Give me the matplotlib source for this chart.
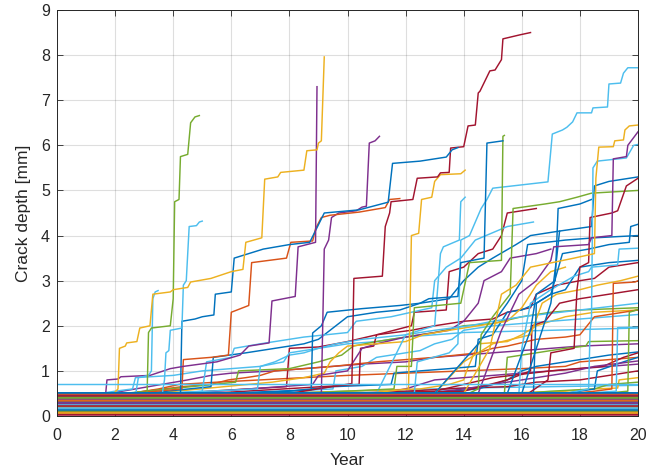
import matplotlib
matplotlib.use("Agg")
import matplotlib.pyplot as plt

# MATLAB default line colours
B, O, Y, P, G, C, R = ("#0072BD", "#D95319", "#EDB120", "#7E2F8E",
                       "#77AC30", "#4DBEEE", "#A2142F")
band_cycle = [B, O, Y, P, G, C, R]

# ── Data ──────────────────────────────────────────────────────────────────────
years_span = [0, 20]

# cracks that stay (almost) dormant over the whole horizon, depth in mm
flat_depths = [0.47, 0.12, 0.33, 0.30, 0.41, 0.26, 0.03, 0.50, 0.08, 0.37,
               0.22, 0.44, 0.15, 0.05, 0.19, 0.48, 0.35, 0.10, 0.28, 0.42,
               0.17, 0.39, 0.06, 0.24, 0.46, 0.13, 0.32, 0.20, 0.52, 0.09,
               0.36, 0.27, 0.43, 0.16, 0.04, 0.31, 0.49, 0.21, 0.38, 0.11,
               0.25, 0.45, 0.14, 0.34, 0.07, 0.29, 0.40, 0.18, 0.23, 0.51]

# growing cracks: (year, depth) vertices
crack_y1 = [(0, 0.45), (1.95, 0.5), (2.1, 0.6), (2.15, 1.5), (2.35, 1.55), (2.4, 1.62),
            (2.75, 1.65), (2.85, 1.95), (3.2, 2.0), (3.3, 2.7), (3.9, 2.75), (4.0, 2.8),
            (4.5, 2.85), (4.6, 2.97), (5.3, 3.05), (6.0, 3.2), (6.4, 3.25), (6.5, 3.85),
            (7.05, 3.95), (7.15, 5.25), (7.6, 5.3), (7.7, 5.4), (8.5, 5.45), (8.6, 5.88),
            (8.95, 5.9), (9.0, 6.05), (9.1, 6.1), (9.2, 7.96)]
crack_g1 = [(0, 0.42), (3.1, 0.45), (3.15, 1.85), (3.25, 1.95), (3.9, 2.0), (4.0, 2.6),
            (4.05, 4.75), (4.2, 4.8), (4.25, 5.75), (4.5, 5.8), (4.6, 6.5), (4.75, 6.63),
            (4.9, 6.66)]
crack_c1 = [(0, 0.4), (2.7, 0.45), (2.8, 0.85), (3.15, 0.9), (3.25, 1.0), (3.3, 2.6),
            (3.38, 2.75), (3.48, 2.78)]
crack_c2 = [(0, 0.35), (3.6, 0.4), (3.7, 0.8), (3.75, 1.4), (3.85, 1.45), (3.9, 1.9),
            (4.3, 1.95), (4.35, 2.9), (4.45, 3.0), (4.55, 4.2), (4.8, 4.22), (4.9, 4.3),
            (5.0, 4.32)]
crack_p1 = [(0, 0.3), (1.65, 0.32), (1.72, 0.8), (2.1, 0.82), (2.2, 0.87), (3.2, 0.9),
            (3.9, 1.05), (4.35, 1.1), (5.5, 1.2), (6.3, 1.35), (6.6, 1.55), (7.3, 1.62),
            (7.4, 2.55), (8.2, 2.65), (8.3, 3.75), (8.9, 3.85), (8.95, 7.3)]
crack_b1 = [(0, 0.4), (4.25, 0.47), (4.3, 2.1), (4.75, 2.15), (5.0, 2.2), (5.4, 2.24),
            (5.45, 2.7), (6.0, 2.75), (6.1, 3.5), (7.1, 3.7), (8.0, 3.8), (8.7, 3.85),
            (9.2, 4.5), (10.4, 4.57), (11.4, 4.74), (11.55, 5.6), (12.5, 5.65),
            (13.4, 5.74), (13.6, 5.9), (13.8, 5.95)]
crack_o1 = [(0, 0.35), (4.3, 0.6), (4.35, 1.25), (5.3, 1.3), (5.9, 1.35), (6.0, 2.3),
            (6.6, 2.45), (6.7, 3.4), (7.9, 3.5), (8.05, 3.85), (8.8, 3.88), (8.9, 4.15),
            (9.1, 4.4), (9.4, 4.45), (10.4, 4.52), (11.3, 4.62), (11.45, 4.8), (11.8, 4.82)]
crack_p2 = [(0, 0.3), (6, 0.4), (9.1, 0.5), (9.2, 3.7), (9.35, 3.9), (9.45, 4.4),
            (9.7, 4.5), (10.3, 4.55), (10.5, 4.63), (10.65, 4.65), (10.75, 6.05),
            (10.95, 6.1), (11.1, 6.2)]
crack_r1 = [(0, 0.38), (8, 0.5), (10.15, 0.72), (10.22, 3.05), (11.2, 3.1), (11.3, 4.2),
            (11.45, 4.5), (11.5, 4.75), (12.25, 4.8), (12.4, 5.27), (13.1, 5.3),
            (13.2, 5.39), (13.5, 5.4), (13.55, 5.94), (14.0, 5.97), (14.15, 6.43),
            (14.4, 6.45), (14.5, 7.16), (14.56, 7.2), (14.9, 7.65), (15.08, 7.67),
            (15.3, 7.9), (15.35, 8.36), (15.94, 8.45), (16.3, 8.5)]
crack_y2 = [(0, 0.3), (10, 0.45), (12.1, 0.6), (12.2, 4.0), (12.45, 4.05), (12.55, 4.8),
            (12.9, 4.85), (13.0, 5.2), (13.2, 5.35), (13.9, 5.37), (14.05, 5.45)]
crack_b2 = [(0, 0.35), (8.75, 0.58), (8.8, 1.84), (9.1, 2.0), (9.3, 2.3), (10.5, 2.38),
            (11.8, 2.45), (12.5, 2.5), (12.8, 2.6), (13.8, 2.65), (13.9, 3.4), (14.7, 3.5),
            (14.8, 6.05), (15.35, 6.1)]
crack_g2 = [(0, 0.25), (11.6, 0.6), (11.7, 1.1), (12.2, 1.1), (12.3, 2.4), (13.9, 2.5),
            (14.2, 3.4), (15.3, 3.45), (15.35, 6.2), (15.4, 6.22)]
crack_c3 = [(0, 0.3), (12.3, 0.5), (12.4, 1.2), (13.5, 1.4), (13.8, 1.6), (13.9, 3.9),
            (14.2, 4.0), (14.6, 4.6), (14.8, 4.8), (15.0, 5.05), (16.9, 5.19), (17.05, 6.25),
            (17.4, 6.34), (17.55, 6.4), (17.75, 6.52), (17.9, 6.72), (18.4, 6.72),
            (18.45, 6.83), (18.95, 6.85), (19.0, 7.36), (19.4, 7.38), (19.5, 7.6),
            (19.65, 7.72), (20, 7.72)]
crack_c4 = [(0, 0.2), (11, 0.5), (12, 1.8), (13.0, 2.0), (13.2, 3.6), (13.3, 3.75),
            (13.85, 3.9), (13.9, 4.75), (14.05, 4.85)]
crack_y3 = [(0, 0.3), (14, 0.5), (14.9, 1.5), (15.3, 2.7), (15.8, 2.9), (16.3, 3.3),
            (17.8, 3.5), (18.5, 3.6), (18.55, 5.27), (18.65, 5.96), (19.15, 5.97),
            (19.2, 6.1), (19.5, 6.12), (19.55, 6.34), (19.7, 6.43), (20, 6.45)]
crack_p3 = [(0, 0.25), (14.5, 0.5), (15.3, 1.9), (15.9, 2.7), (16.5, 3.0), (17.0, 3.45),
            (17.1, 3.75), (18.3, 3.8), (18.4, 3.95), (19.1, 4.0), (19.15, 5.7), (19.6, 5.75),
            (19.65, 6.0), (20, 6.3)]
crack_c5 = [(0, 0.35), (17.5, 0.5), (18.3, 0.6), (18.35, 1.9), (18.4, 2.2), (18.45, 5.5),
            (18.6, 5.65), (19.6, 5.72), (19.85, 6.0), (20, 6.02)]
crack_r2 = [(0, 0.2), (16, 0.4), (16.9, 0.8), (17.0, 1.4), (17.8, 1.5), (17.9, 2.8),
            (18.0, 3.3), (18.3, 3.4), (18.35, 4.4), (19.1, 4.5), (19.3, 4.55), (19.6, 5.1),
            (20, 5.27)]
crack_g3 = [(0, 0.2), (13.5, 0.3), (14.5, 0.6), (14.6, 1.8), (15.0, 2.2), (15.6, 2.7),
            (15.7, 4.6), (16.8, 4.7), (17.3, 4.75), (17.9, 4.85), (18.4, 4.94), (20, 5.0)]
crack_b3 = [(0, 0.3), (16, 0.5), (16.5, 1.5), (17.0, 2.5), (17.2, 3.5), (17.3, 4.1),
            (18.4, 4.2), (18.5, 5.1), (19.0, 5.2), (20, 5.3)]
crack_b4 = [(0, 0.3), (15.5, 0.5), (16.3, 1.9), (16.5, 2.7), (17.15, 3.0), (17.25, 4.6),
            (18.0, 4.7), (18.4, 4.8)]
crack_b5 = [(0, 0.25), (16.4, 0.5), (16.5, 2.5), (17.0, 2.7), (17.4, 3.6), (18.3, 3.7),
            (19.0, 3.8), (19.7, 3.85), (19.75, 4.2), (20, 4.25)]
crack_b6 = [(0, 0.3), (13, 0.5), (14.5, 1.6), (15.5, 2.5), (16.0, 3.0), (16.2, 3.8),
            (17.5, 3.9), (18.5, 3.95), (20, 4.0)]
crack_c6 = [(0, 0.35), (15.9, 0.5), (16.0, 1.5), (16.3, 2.5), (17.0, 2.8), (17.8, 3.1),
            (18.3, 3.2), (18.4, 3.3), (19.3, 3.35), (19.35, 3.7), (20, 3.72)]
crack_o2 = [(0, 0.3), (17, 0.45), (18.5, 0.55), (19.1, 0.6), (19.15, 2.94), (19.9, 2.97),
            (20, 3.0)]
crack_c7 = [(0, 0.3), (18, 0.5), (19.25, 0.55), (19.3, 1.96), (20, 1.97)]
crack_g4 = [(0, 0.2), (18, 0.45), (19.65, 0.55), (19.7, 2.3), (20, 2.36)]
crack_y4 = [(0, 0.35), (13, 0.5), (14.0, 1.2), (15.0, 1.6), (16.3, 1.8), (16.7, 2.5),
            (17.2, 2.7), (18.0, 2.8), (18.6, 2.9), (19.4, 3.0), (20, 3.1)]
crack_r3 = [(0, 0.3), (14, 0.55), (15.5, 0.8), (16.3, 1.0), (16.35, 2.0), (16.8, 2.1),
            (17.3, 2.5), (18.0, 2.6), (19, 2.7), (20, 2.8)]
crack_p4 = [(0, 0.3), (12, 0.45), (14, 0.6), (16, 0.8), (17.5, 0.95), (18.5, 1.1), (20, 1.22)]
crack_r4 = [(0, 0.25), (13, 0.55), (15, 0.85), (17, 1.0), (18.8, 1.1), (19.5, 1.3), (20, 1.4)]
crack_g5 = [(0, 0.3), (15.4, 0.5), (15.5, 1.3), (16.5, 1.4), (17.5, 1.5), (18.2, 1.55),
            (18.3, 1.65), (20, 1.67)]
crack_b7 = [(0, 0.25), (17, 0.45), (18.5, 0.6), (18.6, 1.0), (19.5, 1.2), (20, 1.3)]
crack_c8 = [(0, 0.35), (5.0, 0.55), (5.15, 1.2), (6.0, 1.3), (6.1, 1.5), (7.0, 1.6),
            (8.5, 1.75), (10.0, 1.85), (10.3, 2.1), (11.5, 2.2), (12.2, 2.3), (12.9, 2.4),
            (13.0, 3.0), (13.4, 3.3), (13.9, 3.5), (14.4, 3.9), (15.5, 4.2), (16.4, 4.3)]
crack_b8 = [(0, 0.3), (5.3, 0.65), (5.38, 1.3), (6.5, 1.4), (7.5, 1.5), (8.5, 1.6),
            (9.0, 1.7), (10.0, 2.2), (11.0, 2.3), (11.8, 2.35), (12.5, 2.5), (13.5, 2.6),
            (14.0, 3.0), (14.5, 3.3), (15.0, 3.5), (15.8, 3.8), (16.3, 4.0), (17.3, 4.1)]
crack_c9 = [(0, 0.4), (6.9, 0.6), (7.0, 1.1), (7.8, 1.2), (8.0, 1.4), (9.0, 1.5),
            (9.6, 1.6), (10.5, 1.7), (12.0, 1.8), (13.0, 1.9), (14.2, 2.0), (15.0, 2.1),
            (16.0, 2.2), (20, 2.5)]
crack_y5 = [(0, 0.3), (7.4, 0.75), (8.5, 0.85), (9.2, 0.95), (9.4, 1.2), (9.7, 1.4),
            (10.0, 1.55), (11.0, 1.6), (12.0, 1.65), (12.6, 1.8), (13.5, 1.9), (14.5, 2.0),
            (15.5, 2.1), (16.0, 2.4), (16.5, 2.9), (17.0, 3.2), (17.5, 3.3)]
crack_p5 = [(0, 0.3), (8.8, 0.7), (9.0, 0.9), (10.0, 1.0), (10.5, 1.5), (11.0, 1.6),
            (12.0, 1.75), (12.5, 1.8), (13.5, 1.9), (14.0, 2.1), (14.5, 2.5), (14.7, 3.0),
            (15.3, 3.2), (15.6, 3.5), (16.5, 3.6), (17.0, 3.7)]
crack_r5 = [(0, 0.3), (10.4, 0.7), (10.45, 1.5), (10.9, 1.55), (11.0, 1.8), (11.3, 1.85),
            (12.2, 2.0), (12.3, 2.3), (13.4, 2.35), (13.5, 3.2), (14.0, 3.3), (14.5, 3.6),
            (15.0, 3.7), (15.3, 4.0), (15.5, 4.5), (16.0, 4.55), (16.5, 4.6)]
crack_g6 = [(0, 0.35), (6.15, 0.75), (6.25, 1.0), (8.0, 1.05), (9.0, 1.2), (9.8, 1.35),
            (10.2, 1.55), (11.0, 1.65), (12.0, 1.75), (13.0, 1.85), (14.0, 2.0), (15.0, 2.05),
            (16.0, 2.2), (17.0, 2.3), (18.0, 2.35), (20, 2.4)]
crack_o3 = [(0, 0.3), (4.3, 0.65), (5.3, 0.7), (5.9, 0.8), (6.5, 0.85), (7.0, 0.9),
            (7.5, 1.0), (9.5, 1.1), (11.0, 1.2), (13.0, 1.3), (14.5, 1.4), (15.0, 1.5),
            (15.5, 1.55), (16.5, 1.7), (17.5, 1.75), (18.0, 1.8), (18.5, 2.2), (19.5, 2.3),
            (20, 2.35)]
crack_b9 = [(0, 0.3), (8.0, 0.55), (9.5, 0.65), (11.5, 0.7), (11.6, 0.95), (12.5, 1.0),
            (13.5, 1.05), (14.4, 1.1), (14.5, 1.7), (15.0, 1.8), (15.5, 2.3), (16.0, 2.35),
            (16.5, 2.5), (17.0, 2.7), (17.5, 2.8), (18.0, 3.3), (19.0, 3.4), (20, 3.45)]
crack_c10 = [(0, 0.3), (9.5, 0.6), (9.6, 1.0), (10.5, 1.1), (11.0, 1.3), (12.0, 1.4),
             (12.5, 1.45), (13.0, 1.6), (13.6, 1.7), (14.0, 1.9), (15.0, 2.0), (16.0, 2.05),
             (17.0, 2.1), (18.0, 2.15), (19.0, 2.2), (20, 2.25)]
crack_p6 = [(0, 0.3), (11, 0.5), (12, 0.6), (13, 0.8), (14, 0.85), (15, 0.9), (16, 0.95),
            (17, 1.0), (18, 1.05), (19, 1.1), (20, 1.15)]
crack_r6 = [(0, 0.35), (7.9, 0.65), (8.0, 1.5), (9.0, 1.53), (9.6, 1.6), (10, 1.65),
            (11, 1.8), (12.2, 1.9), (13, 2.0), (14, 2.1), (15, 2.15), (15.5, 2.3),
            (16.3, 2.4), (16.5, 2.7), (17.2, 2.9), (18.0, 3.0), (18.5, 3.05), (19.0, 3.3),
            (20, 3.4)]
crack_y6 = [(0, 0.35), (12.5, 0.6), (13.5, 0.7), (14.0, 0.8), (14.1, 1.0), (14.5, 1.6),
            (15.5, 1.65), (16.0, 1.8), (16.5, 2.0), (17.0, 2.1), (17.5, 2.2), (18.5, 2.3),
            (20, 2.35)]
crack_b10 = [(0, 0.3), (13.5, 0.55), (14.5, 0.6), (15.0, 0.7), (15.5, 0.8), (16.0, 1.0),
             (16.5, 1.1), (17.5, 1.2), (18.5, 1.3), (19.0, 1.35), (20, 1.42)]
crack_c11 = [(0, 0.35), (2.0, 0.55), (2.6, 0.6), (2.7, 0.85), (4.0, 0.9), (5.0, 1.0),
             (6.0, 1.05), (7.0, 1.1), (7.5, 1.2), (8.0, 1.35), (8.5, 1.4), (9.0, 1.5),
             (10.0, 1.6), (11.0, 1.65), (12.0, 1.75), (13.0, 1.8), (14.0, 1.85), (20, 1.95)]
crack_o4 = [(0, 0.25), (3.5, 0.6), (4.2, 0.7), (5.5, 0.75), (7.0, 0.8), (8.5, 0.85),
            (10, 0.9), (12, 0.95), (14, 1.0), (16, 1.05), (17.5, 1.1), (18, 1.2), (19, 1.25),
            (20, 1.3)]
crack_p7 = [(0, 0.3), (4.5, 0.8), (5.3, 0.9), (6.0, 0.95), (7.5, 1.0), (8.5, 1.05),
            (9.5, 1.1), (10.5, 1.15), (12, 1.2), (13, 1.3), (14, 1.35), (15.0, 1.4), (16, 1.45),
            (17.0, 1.5), (18, 1.55), (20, 1.6)]
crack_g7 = [(0, 0.3), (14, 0.45), (16, 0.5), (17.0, 0.55), (18.5, 0.6), (19.0, 0.7), (20, 0.75)]
crack_r7 = [(0, 0.3), (10, 0.5), (12, 0.55), (14, 0.62), (15.5, 0.65), (16.5, 0.75),
            (18, 0.8), (19, 0.9), (20, 1.0)]
crack_b11 = [(0, 0.15), (2.8, 0.2), (5, 0.28), (8, 0.33), (12, 0.38), (16, 0.42), (20, 0.45)]
crack_y7 = [(0, 0.3), (15, 0.5), (17.5, 0.55), (18.5, 0.6), (19.3, 0.62), (19.35, 0.8),
            (20, 0.85)]
crack_c12 = [(0, 0.4), (10, 0.55), (13, 0.6), (15, 0.63), (17, 0.65), (20, 0.68)]
crack_c13 = [(0, 0.71), (20, 0.71)]

growth_curves = [crack_b11, crack_c12, crack_y7, crack_r7, crack_g7, crack_p7, crack_o4,
                 crack_c11, crack_b10, crack_y6, crack_r6, crack_p6, crack_c10, crack_b9,
                 crack_o3, crack_g6, crack_r5, crack_p5, crack_y5, crack_c9, crack_b8,
                 crack_c8, crack_b7, crack_g5, crack_r4, crack_p4, crack_r3, crack_y4,
                 crack_g4, crack_c7, crack_o2, crack_c6, crack_b6, crack_b5, crack_b4,
                 crack_b3, crack_g3, crack_r2, crack_c5, crack_p3, crack_y3, crack_c4,
                 crack_c3, crack_g2, crack_b2, crack_y2, crack_r1, crack_p2, crack_o1,
                 crack_b1, crack_p1, crack_c2, crack_c1, crack_g1, crack_y1]
growth_colors = [B, C, Y, R, G, P, O,
                 C, B, Y, R, P, C, B,
                 O, G, R, P, Y, C, B,
                 C, B, G, R, P, R, Y,
                 G, C, O, C, B, B, B,
                 B, G, R, C, P, Y, C,
                 C, G, B, Y, R, P, O,
                 B, P, C, C, G, Y]

# ── Figure ────────────────────────────────────────────────────────────────────
plt.rcParams.update({
    "font.family": ["Liberation Sans", "DejaVu Sans"],
    "axes.unicode_minus": False,
})

fig = plt.figure(figsize=(6.62, 4.72), dpi=100, facecolor="white")
ax = fig.add_axes([57 / 662, 56 / 472, 581 / 662, 406 / 472])

for pts, col in zip(growth_curves, growth_colors):
    t, d = zip(*pts)
    ax.plot(t, d, color=col, lw=1.05, solid_joinstyle="round")

for i, dep in enumerate(flat_depths):
    ax.plot(years_span, [dep, dep], color=band_cycle[i % 7], lw=1.1)

# the long light-blue dormant crack sits on top
t, d = zip(*crack_c13)
ax.plot(t, d, color=C, lw=1.05)

ax.set_xlim(0, 20)
ax.set_ylim(0, 9)
ax.set_xticks(range(0, 21, 2))
ax.set_yticks(range(0, 10))
ax.grid(True, color="#262626", alpha=0.15, lw=0.8)
ax.set_axisbelow(True)

for s in ax.spines.values():
    s.set_color("#262626")
    s.set_linewidth(0.7)
ax.tick_params(direction="in", length=4.2, width=0.6, color="#262626",
               top=True, right=True, labelsize=11.5, labelcolor="#262626")
ax.tick_params(axis="x", pad=9)
ax.tick_params(axis="y", pad=5)
ax.set_xlabel("Year", fontsize=12.5, color="#262626", labelpad=7)
ax.set_ylabel("Crack depth [mm]", fontsize=12.5, color="#262626", labelpad=7.5)

fig.savefig("out.png", dpi=100, facecolor="white")
